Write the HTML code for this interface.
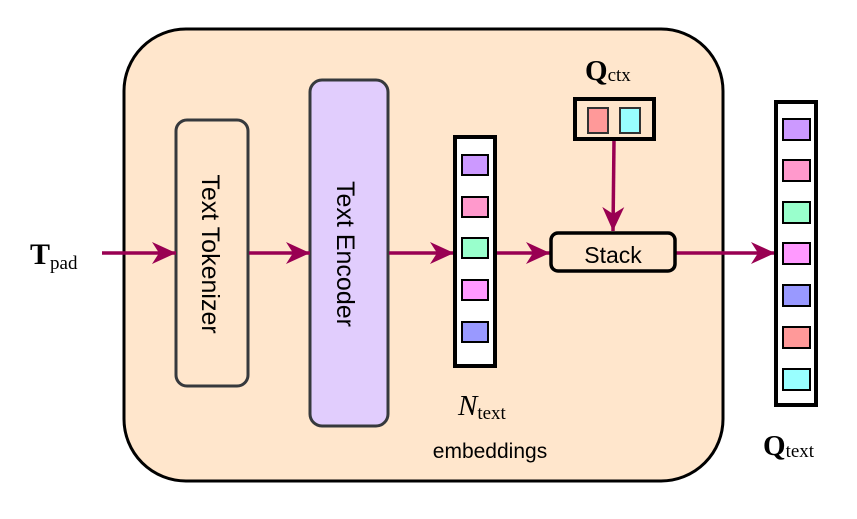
<!DOCTYPE html>
<html><head><meta charset="utf-8"><style>html,body{margin:0;padding:0;background:#fff}svg{display:block}</style></head>
<body>
<svg width="857" height="519" viewBox="0 0 857 519" xmlns="http://www.w3.org/2000/svg">
<defs>
<marker id="ah" markerUnits="userSpaceOnUse" markerWidth="26" markerHeight="24" refX="24" refY="12" orient="auto">
<path d="M0,1 L24,12 L0,23 L7,12 z" fill="#990052"/>
</marker>
</defs>
<rect x="124" y="29" width="599" height="452" rx="62" fill="#ffe6cc" stroke="#000" stroke-width="3"/>
<rect x="176" y="120" width="72" height="266" rx="11" fill="#ffe6cc" stroke="#36393d" stroke-width="3"/>
<rect x="310" y="80" width="78" height="346" rx="12" fill="#e1cdfd" stroke="#36393d" stroke-width="3"/>
<text transform="translate(202,254) rotate(90)" text-anchor="middle" font-family="Liberation Sans, sans-serif" font-size="25" fill="#000">Text Tokenizer</text>
<text transform="translate(337,254) rotate(90)" text-anchor="middle" font-family="Liberation Sans, sans-serif" font-size="25" fill="#000">Text Encoder</text>
<g stroke="#990052" stroke-width="3.5" fill="none">
<line x1="102" y1="253" x2="176" y2="253" marker-end="url(#ah)"/>
<line x1="249" y1="253" x2="310" y2="253" marker-end="url(#ah)"/>
<line x1="389" y1="253" x2="454" y2="253" marker-end="url(#ah)"/>
<line x1="496" y1="253" x2="550" y2="253" marker-end="url(#ah)"/>
<line x1="676" y1="253" x2="775" y2="253" marker-end="url(#ah)"/>
<line x1="614" y1="140" x2="613" y2="231" marker-end="url(#ah)"/>
</g>
<rect x="455" y="137" width="40" height="229" fill="#fff" stroke="#000" stroke-width="4"/>
<g stroke="#000" stroke-width="2">
<rect x="462" y="155" width="26" height="20" fill="#cc99ff"/>
<rect x="462" y="197" width="26" height="20" fill="#ff99cc"/>
<rect x="462" y="238" width="26" height="20" fill="#99ffcc"/>
<rect x="462" y="280" width="26" height="20" fill="#ff99ff"/>
<rect x="462" y="322" width="26" height="20" fill="#9999ff"/>
</g>
<rect x="575" y="99" width="79" height="40" fill="#ffe6cc" stroke="#000" stroke-width="4"/>
<g stroke="#333" stroke-width="2">
<rect x="588" y="108" width="20" height="25" fill="#ff9999"/>
<rect x="620" y="108" width="20" height="25" fill="#99ffff"/>
</g>
<rect x="551" y="233" width="124" height="38" rx="7" fill="#ffe6cc" stroke="#000" stroke-width="3.5"/>
<text x="613" y="263" text-anchor="middle" font-family="Liberation Sans, sans-serif" font-size="23">Stack</text>
<rect x="776" y="102" width="40" height="303" fill="#fff" stroke="#000" stroke-width="4"/>
<g stroke="#000" stroke-width="2">
<rect x="783" y="119" width="27" height="21" fill="#cc99ff"/>
<rect x="783" y="160" width="27" height="21" fill="#ff99cc"/>
<rect x="783" y="202" width="27" height="21" fill="#99ffcc"/>
<rect x="783" y="243" width="27" height="21" fill="#ff99ff"/>
<rect x="783" y="285" width="27" height="21" fill="#9999ff"/>
<rect x="783" y="327" width="27" height="21" fill="#ff9999"/>
<rect x="783" y="369" width="27" height="21" fill="#99ffff"/>
</g>
<g font-family="Liberation Serif, serif">
<text x="30" y="264" font-size="30" font-weight="bold">T<tspan font-weight="normal" font-size="19" dy="5">pad</tspan></text>
<text x="585" y="80" font-size="29" font-weight="bold">Q<tspan font-weight="normal" font-size="19" dy="1">ctx</tspan></text>
<text x="458" y="415" font-size="29" font-style="italic">N<tspan font-style="normal" font-size="19" dy="4">text</tspan></text>
<text x="763" y="455" font-size="29" font-weight="bold">Q<tspan font-weight="normal" font-size="19" dy="2">text</tspan></text>
</g>
<text x="490" y="458" text-anchor="middle" font-family="Liberation Sans, sans-serif" font-size="21">embeddings</text>
</svg>
</body></html>
